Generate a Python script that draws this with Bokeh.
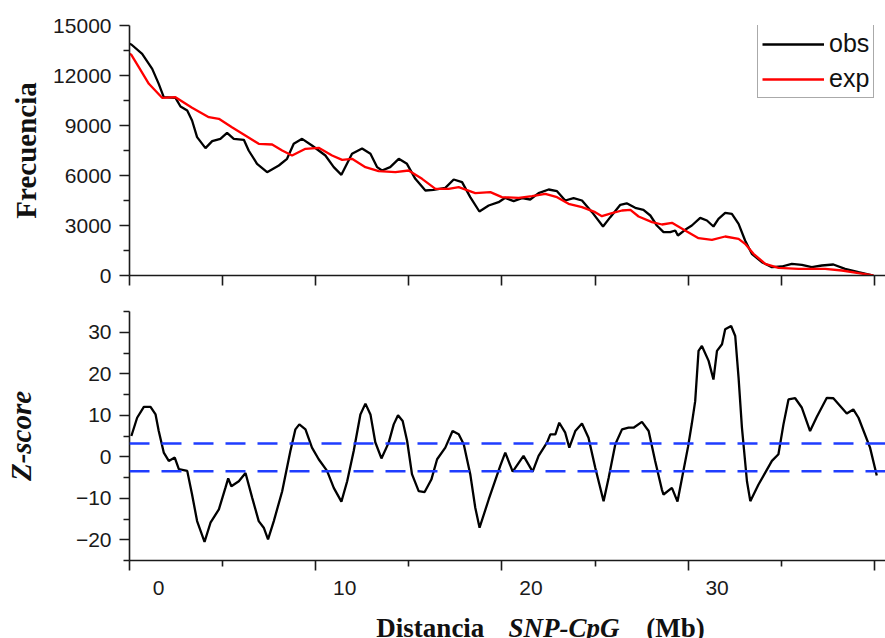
from bokeh.plotting import figure
from bokeh.layouts import column
from bokeh.models import (Range1d, FixedTicker, Span, Legend, LegendItem)
from bokeh.core.properties import value
from bokeh.embed import file_html
from bokeh.resources import INLINE

# ---------------- data ----------------
obs_x = [0.0, 0.1, 0.68, 1.22, 1.57, 1.84, 2.47, 2.74, 3.1, 3.36, 3.63, 4.08, 4.44, 4.88,
         5.24, 5.6, 6.14, 6.4, 6.85, 7.39, 8.02, 8.46, 8.82, 9.27, 9.8, 10.52, 10.97,
         11.38, 11.95, 12.49, 12.94, 13.3, 13.56, 14.0, 14.46, 14.9, 15.35, 15.89, 16.33,
         16.96, 17.41, 17.86, 18.3, 18.79, 19.29, 19.82, 20.18, 20.63, 21.08, 21.52,
         21.97, 22.51, 22.96, 23.4, 23.85, 24.3, 24.84, 25.43, 25.82, 26.36, 26.7,
         27.16, 27.6, 27.97, 28.32, 28.68, 29.04, 29.31, 29.45, 29.84, 30.2, 30.65,
         31.01, 31.36, 31.63, 31.99, 32.35, 32.71, 33.06, 33.42, 33.96, 34.5, 35.03,
         35.57, 36.11, 36.64, 37.18, 37.8, 38.43, 39.15, 39.95]
obs_y = [13900, 13860, 13300, 12400, 11500, 10700, 10660, 10140, 9900, 9300, 8300, 7640,
         8060, 8200, 8560, 8200, 8140, 7500, 6700, 6200, 6600, 7000, 7900, 8200, 7800,
         7200, 6500, 6040, 7300, 7620, 7300, 6500, 6300, 6500, 7000, 6700, 5800, 5100,
         5140, 5260, 5760, 5600, 4700, 3840, 4200, 4400, 4660, 4460, 4640, 4560, 4940,
         5160, 5060, 4500, 4640, 4500, 3800, 2940, 3500, 4240, 4330, 4060, 3940, 3600,
         3000, 2600, 2600, 2700, 2400, 2740, 3000, 3460, 3300, 2940, 3400, 3760, 3700,
         3100, 2100, 1300, 800, 500, 540, 700, 640, 500, 600, 660, 400, 200, 0]

exp_x = [0.0, 0.1, 0.5, 1.04, 1.75, 2.47, 3.36, 4.26, 4.8, 5.5, 6.22, 6.94, 7.66, 8.2,
         8.73, 9.45, 10.16, 10.88, 11.42, 11.95, 12.67, 13.38, 14.28, 14.99, 15.71,
         16.43, 17.14, 17.68, 18.57, 19.38, 20.0, 20.9, 21.62, 22.33, 22.96, 23.58,
         24.3, 25.01, 25.37, 25.91, 26.45, 26.9, 27.34, 28.06, 28.6, 29.13, 29.84,
         30.56, 31.28, 31.99, 32.71, 33.06, 33.51, 34.14, 34.85, 35.93, 37.36, 38.26,
         39.15, 39.95]
exp_y = [13300, 13240, 12500, 11500, 10660, 10700, 10060, 9500, 9400, 8900, 8400, 7900,
         7860, 7500, 7200, 7600, 7660, 7200, 6940, 7000, 6500, 6260, 6200, 6300, 5800,
         5200, 5200, 5300, 4940, 5000, 4700, 4660, 4760, 4900, 4700, 4300, 4100, 3800,
         3560, 3740, 3900, 3940, 3540, 3200, 3060, 3160, 2700, 2240, 2140, 2340, 2200,
         1900, 1300, 700, 460, 400, 400, 300, 140, 0]

z_x = [0.1, 0.41, 0.77, 1.13, 1.4, 1.57, 1.84, 2.11, 2.43, 2.65, 3.1, 3.36, 3.63, 4.03,
       4.35, 4.8, 5.15, 5.3, 5.47, 5.87, 6.23, 6.59, 6.94, 7.21, 7.44, 7.75, 8.2, 8.64,
       8.91, 9.12, 9.45, 9.8, 10.16, 10.61, 10.97, 11.38, 11.69, 12.04, 12.4, 12.67,
       12.94, 13.2, 13.53, 13.92, 14.19, 14.42, 14.67, 14.91, 15.17, 15.53, 15.85,
       16.21, 16.52, 16.96, 17.35, 17.68, 17.95, 18.3, 18.57, 18.8, 19.29, 19.91,
       20.18, 20.58, 21.16, 21.65, 21.97, 22.42, 22.6, 22.87, 23.08, 23.4, 23.62,
       23.94, 24.3, 24.65, 25.01, 25.46, 25.73, 26.09, 26.45, 26.8, 27.07, 27.52,
       27.88, 28.23, 28.59, 28.68, 29.13, 29.43, 30.0, 30.2, 30.38, 30.56, 30.74,
       31.1, 31.36, 31.55, 31.82, 31.99, 32.31, 32.53, 32.71, 32.89, 33.16, 33.34,
       33.78, 34.5, 34.85, 35.12, 35.39, 35.75, 36.11, 36.55, 36.9, 37.45, 37.8,
       38.52, 38.87, 39.15, 39.77, 40.13]
z_y = [5.0, 9.4, 12.0, 12.0, 10.2, 6.2, 1.0, -1.0, -0.2, -3.0, -3.4, -9.1, -15.5, -20.5,
       -15.9, -12.7, -7.5, -5.2, -7.1, -5.9, -3.9, -9.9, -15.5, -17.1, -19.9, -15.5,
       -8.3, 1.4, 6.6, 7.8, 6.6, 2.2, -0.6, -3.4, -7.5, -10.8, -5.9, 1.4, 10.2, 12.8,
       10.2, 3.5, -0.4, 3.4, 7.8, 10.0, 8.6, 3.8, -4.2, -8.3, -8.5, -5.5, -0.6, 2.2,
       6.2, 5.4, 3.0, -4.2, -12.3, -17.1, -10.3, -2.2, 1.0, -3.6, 0.2, -3.6, 0.2, 3.4,
       5.4, 5.4, 8.2, 5.8, 2.2, 6.2, 8.0, 4.6, -2.6, -10.7, -5.1, 3.0, 6.6, 7.0, 7.0,
       8.4, 6.2, -1.0, -7.9, -9.1, -7.5, -10.8, 2.5, 8.0, 13.4, 25.5, 26.7, 23.1, 18.6,
       25.5, 27.1, 30.7, 31.5, 29.1, 19.0, 7.0, -5.9, -10.7, -6.7, -1.0, 0.6, 7.8, 13.8,
       14.1, 11.8, 6.2, 9.5, 14.2, 14.1, 10.4, 11.4, 9.4, 2.2, -4.5]

thresholds = [3.2, -3.5]

x_major = [0, 10, 20, 30, 40]
x_minor = [5, 15, 25, 35]
x_tick_labels = ["0", "10", "20", "30", "40"]
freq_major = [0, 3000, 6000, 9000, 12000, 15000]
freq_minor = [1500, 4500, 7500, 10500, 13500]
z_major = [-20, -10, 0, 10, 20, 30]
z_minor = [-25, -15, -5, 5, 15, 25, 35]

xlabel_parts = ["Distancia", "SNP-CpG", "(Mb)"]
xlabel_styles = ["bold", "bold italic", "bold"]
xlabel_starts = [11.70, 18.79, 26.19]   # left edges of the title pieces, in Mb

SANS = "Liberation Sans"
SERIF = "Liberation Serif"
AX = "#1a1a1a"

X_END = 40.6
FRAME_W = 756
PX_PER_MB = FRAME_W / X_END


def style_axes(p):
    for ax in p.axis:
        ax.axis_line_color = AX
        ax.axis_line_width = 1.6
        ax.major_tick_line_color = AX
        ax.major_tick_line_width = 1.6
        ax.minor_tick_line_color = AX
        ax.minor_tick_line_width = 1.6
        ax.major_tick_in = 0
        ax.major_tick_out = 10
        ax.minor_tick_in = 0
        ax.minor_tick_out = 6
        ax.major_label_text_font = SANS
        ax.major_label_text_font_size = "21px"
        ax.major_label_text_color = AX
        ax.major_label_standoff = 8
    p.grid.visible = False
    p.outline_line_color = None


# ---------------- top panel ----------------
p1 = figure(frame_width=FRAME_W, frame_height=250, min_border_left=129, min_border_right=0,
            min_border_top=25, min_border_bottom=15, title=None,
            x_range=Range1d(0, X_END), y_range=Range1d(0, 15000),
            output_backend="svg", toolbar_location=None)
style_axes(p1)
all_x = sorted(x_major + x_minor)
p1.xaxis.ticker = FixedTicker(ticks=all_x)
p1.xaxis.major_label_overrides = {t: "" for t in all_x}
p1.xaxis.major_label_standoff = 0
p1.xaxis.axis_label = None
p1.yaxis.ticker = FixedTicker(ticks=freq_major, minor_ticks=freq_minor)
p1.yaxis.axis_label = "Frecuencia"
p1.yaxis.axis_label_text_font = SERIF
p1.yaxis.axis_label_text_font_style = "bold"
p1.yaxis.axis_label_text_font_size = "29px"
p1.yaxis.axis_label_text_color = "#111111"
p1.yaxis.axis_label_standoff = 8

r_obs = p1.line(obs_x, obs_y, line_color="black", line_width=2.3)
r_exp = p1.line(exp_x, exp_y, line_color="#ff0000", line_width=2.3)

legend = Legend(items=[LegendItem(label="obs", renderers=[r_obs]),
                       LegendItem(label="exp", renderers=[r_exp])],
                location=(628, 177))
legend.label_text_font = SANS
legend.label_text_font_size = "25px"
legend.label_text_color = "#111111"
legend.glyph_width = 62
legend.glyph_height = 28
legend.label_height = 28
legend.label_standoff = 5
legend.spacing = 6
legend.padding = 4
legend.margin = 0
legend.border_line_color = "#555555"
legend.border_line_width = 1.2
legend.background_fill_color = "white"
legend.background_fill_alpha = 1.0
p1.add_layout(legend)

# ---------------- bottom panel ----------------
p2 = figure(frame_width=FRAME_W, frame_height=249, min_border_left=129, min_border_right=0,
            min_border_top=21, min_border_bottom=12, title=None,
            x_range=p1.x_range, y_range=Range1d(-25, 35),
            output_backend="svg", toolbar_location=None)
style_axes(p2)
p2.xaxis.ticker = FixedTicker(ticks=x_major, minor_ticks=x_minor)
p2.xaxis.major_label_overrides = {t: "" for t in x_major}
p2.xaxis.major_label_standoff = 0
p2.xaxis.axis_label = None
p2.yaxis.ticker = FixedTicker(ticks=z_major, minor_ticks=z_minor)
p2.yaxis.axis_label = "Z-score"
p2.yaxis.axis_label_text_font = SERIF
p2.yaxis.axis_label_text_font_style = "bold italic"
p2.yaxis.axis_label_text_font_size = "29px"
p2.yaxis.axis_label_text_color = "#111111"
p2.yaxis.axis_label_standoff = 36

for t in thresholds:
    p2.add_layout(Span(location=t, dimension="width", line_color="#1f3dff",
                       line_width=2.6, line_dash="20 12"))

p2.line(z_x, z_y, line_color="black", line_width=2.3)

# ---------------- strip under the bottom panel: x tick labels + x title ----------------
# same px-per-Mb scale as the panels, but the frame starts 29 px further left so that
# the "0" label is not clipped
strip_left = 100
strip_start = -(129 - strip_left) / PX_PER_MB
p3 = figure(frame_width=FRAME_W + (129 - strip_left), frame_height=66,
            min_border_left=strip_left, min_border_right=0,
            min_border_top=0, min_border_bottom=0, title=None,
            x_range=Range1d(strip_start, X_END), y_range=Range1d(0, 66),
            x_axis_type=None, y_axis_type=None,
            output_backend="svg", toolbar_location=None)
p3.grid.visible = False
p3.outline_line_color = None
p3.text(x=x_major, y=[51] * len(x_major), text=x_tick_labels, text_font=value(SANS),
        text_font_size=value("21px"), text_color=AX, text_align="center",
        text_baseline="alphabetic")
for txt, style, xs in zip(xlabel_parts, xlabel_styles, xlabel_starts):
    p3.text(x=[xs], y=[11], text=[txt], text_font=value(SERIF),
            text_font_style=value(style), text_font_size=value("27px"),
            text_color="#111111", text_align="left", text_baseline="alphabetic")

layout = column(p1, p2, p3, spacing=0)
open("out.html", "w").write(file_html(layout, INLINE))
